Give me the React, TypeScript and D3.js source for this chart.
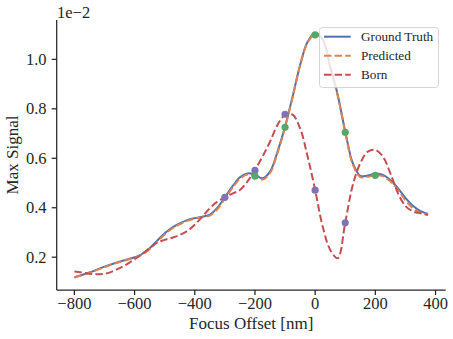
import React from "react";
import * as d3 from "d3";

const xs = [-800,-775,-750,-725,-700,-675,-650,-625,-600,-575,-550,-525,-500,-475,-450,-425,-400,-375,-350,-325,-300,-275,-250,-225,-200,-175,-150,-125,-100,-75,-50,-25,0,25,50,75,100,125,150,175,200,225,250,275,300,325,350,375];

const groundTruth = [0.119,0.128,0.138,0.150,0.162,0.172,0.182,0.191,0.200,0.213,0.236,0.267,0.297,0.320,0.337,0.350,0.358,0.364,0.372,0.400,0.442,0.486,0.523,0.539,0.533,0.519,0.546,0.627,0.728,0.849,0.977,1.071,1.105,1.081,0.970,0.856,0.708,0.580,0.529,0.530,0.537,0.533,0.512,0.479,0.440,0.408,0.386,0.375];

const predicted = [0.118,0.127,0.137,0.149,0.160,0.171,0.181,0.190,0.198,0.210,0.232,0.262,0.292,0.316,0.333,0.347,0.356,0.362,0.368,0.394,0.436,0.480,0.517,0.534,0.527,0.514,0.540,0.622,0.725,0.846,0.975,1.068,1.100,1.078,0.968,0.852,0.705,0.575,0.524,0.525,0.531,0.528,0.506,0.472,0.430,0.397,0.380,0.373];

const born = [0.142,0.138,0.133,0.131,0.133,0.142,0.156,0.172,0.192,0.213,0.236,0.259,0.270,0.279,0.290,0.306,0.331,0.364,0.398,0.425,0.442,0.457,0.472,0.506,0.553,0.607,0.667,0.735,0.775,0.776,0.721,0.607,0.472,0.324,0.230,0.196,0.340,0.492,0.580,0.627,0.634,0.607,0.539,0.459,0.407,0.385,0.378,0.371];

const purpleX = [-300,-200,-100,0,100];
const purpleY = [0.442,0.551,0.778,0.471,0.339];
const greenX = [-200,-100,0,100,200];
const greenY = [0.528,0.725,1.099,0.705,0.531];

const xTicks = [-800,-600,-400,-200,0,200,400];
const yTicks = [0.2,0.4,0.6,0.8,1.0];

const legendItems = [
  { label: "Ground Truth", color: "#4C72B0", dash: "" },
  { label: "Predicted", color: "#DD8452", dash: "7.4,3.2" },
  { label: "Born", color: "#C44E52", dash: "7.4,3.2" },
];

export default function App() {
  const W = 453, H = 339;
  const left = 56.7, right = 445.7, top = 20, bottom = 290;
  const x = d3.scaleLinear().domain([-858.75, 433.75]).range([left, right]);
  const y = d3.scaleLinear().domain([0.0675, 1.159]).range([bottom, top]);
  const font = "'Liberation Serif', 'Times New Roman', serif";
  const txt = "#262626";

  const line = (vals: number[]) =>
    d3.line<number>()
      .x((_, i) => x(xs[i]))
      .y((v) => y(v))
      .curve(d3.curveCatmullRom.alpha(0.5))(vals) || "";

  return (
    <svg width={W} height={H} style={{ position: "absolute", left: 0, top: 0, background: "#fff" }} fontFamily={font}>
      <rect x={0} y={0} width={W} height={H} fill="#fff" />
      <path d={line(groundTruth)} fill="none" stroke="#4C72B0" strokeWidth={2} />
      <path d={line(predicted)} fill="none" stroke="#DD8452" strokeWidth={2} strokeDasharray="7.4,3.2" />
      <path d={line(born)} fill="none" stroke="#C44E52" strokeWidth={2} strokeDasharray="7.4,3.2" />
      {purpleX.map((v, i) => (
        <circle key={"p" + i} cx={x(v)} cy={y(purpleY[i])} r={3.6} fill="#8172B3" />
      ))}
      {greenX.map((v, i) => (
        <circle key={"g" + i} cx={x(v)} cy={y(greenY[i])} r={3.6} fill="#55A868" />
      ))}
      <line x1={left} x2={left} y1={top} y2={bottom} stroke={txt} strokeWidth={1.25} />
      <line x1={left} x2={right} y1={bottom} y2={bottom} stroke={txt} strokeWidth={1.25} />
      {xTicks.map((t) => (
        <g key={"xt" + t}>
          <line x1={x(t)} x2={x(t)} y1={bottom} y2={bottom + 5} stroke={txt} strokeWidth={1.25} />
          <text x={x(t)} y={308.5} textAnchor="middle" fontSize={16.5} fill={txt}>
            {t < 0 ? "\u2212" + Math.abs(t) : String(t)}
          </text>
        </g>
      ))}
      {yTicks.map((t) => (
        <g key={"yt" + t}>
          <line x1={left - 5} x2={left} y1={y(t)} y2={y(t)} stroke={txt} strokeWidth={1.25} />
          <text x={46.5} y={y(t) + 5.5} textAnchor="end" fontSize={16.5} fill={txt}>
            {t.toFixed(1)}
          </text>
        </g>
      ))}
      <text x={57} y={18} fontSize={16.5} fill={txt}>1e{"\u2212"}2</text>
      <text x={(left + right) / 2} y={329} textAnchor="middle" fontSize={17} fill={txt}>Focus Offset [nm]</text>
      <text transform={`translate(17.5,${(top + bottom) / 2}) rotate(-90)`} textAnchor="middle" fontSize={17} fill={txt}>Max Signal</text>
      <rect x={319.5} y={27.5} width={119} height={60} rx={3} fill="#fff" fillOpacity={0.8} stroke="#cccccc" strokeWidth={0.8} />
      {legendItems.map((it, i) => (
        <g key={it.label}>
          <line x1={324} x2={350.7} y1={36.7 + i * 19} y2={36.7 + i * 19} stroke={it.color} strokeWidth={2} strokeDasharray={it.dash || undefined} />
          <text x={361} y={41.3 + i * 19} fontSize={13.2} fill={txt}>{it.label}</text>
        </g>
      ))}
    </svg>
  );
}
